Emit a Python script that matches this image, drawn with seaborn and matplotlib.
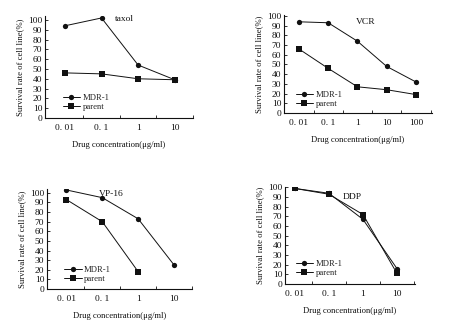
import matplotlib
matplotlib.use("Agg")
import matplotlib.pyplot as plt
import seaborn as sns
import pandas as pd

sns.set_theme(style="white")
plt.rcParams["font.family"] = ["Liberation Serif", "DejaVu Serif"]

# ---- data -------------------------------------------------------------
series_names = ["MDR-1", "parent"]

taxol_conc = ["0. 01", "0. 1", "1", "10"]
taxol_mdr = [94, 102, 54, 39]
taxol_parent = [46, 45, 40, 39]

vcr_conc = ["0. 01", "0. 1", "1", "10", "100"]
vcr_mdr = [94, 93, 74, 48, 32]
vcr_parent = [66, 46, 27, 24, 19]

vp16_conc = ["0. 01", "0. 1", "1", "10"]
vp16_mdr = [103, 95, 73, 25]
vp16_parent = [93, 70, 18]

ddp_conc = ["0. 01", "0. 1", "1", "10"]
ddp_mdr = [99, 94, 67, 16]
ddp_parent = [99, 93, 72, 11]

W, H = 451, 329
fig = plt.figure(figsize=(W / 100, H / 100), dpi=100)
INK = "#111111"


def panel(box, drug, conc, mdr, parent, xlim, ylim, title_xy, legend_xy):
    l, t, r, b = box
    ax = fig.add_axes([l / W, 1 - b / H, (r - l) / W, (b - t) / H])
    rows = []
    for i, v in enumerate(mdr):
        rows.append({"pos": i, "rate": v, "line": "MDR-1"})
    for i, v in enumerate(parent):
        rows.append({"pos": i, "rate": v, "line": "parent"})
    df = pd.DataFrame(rows)
    sns.lineplot(data=df, x="pos", y="rate", hue="line", style="line",
                 hue_order=series_names, style_order=series_names,
                 palette={"MDR-1": INK, "parent": INK},
                 markers={"MDR-1": "o", "parent": "s"}, dashes=False,
                 linewidth=0.7, markersize=3.8, markeredgewidth=0,
                 ax=ax)
    ax.set_xlim(*xlim)
    ax.set_ylim(*ylim)
    ax.set_xticks(range(len(conc)))
    ax.set_xticklabels(conc)
    ax.set_xticks([i + 0.5 for i in range(len(conc))], minor=True)
    ax.set_yticks(range(0, 101, 10))
    ax.tick_params(axis="x", which="major", length=0, pad=4, labelsize=6.8,
                   colors=INK)
    ax.tick_params(axis="x", which="minor", direction="in", length=2,
                   width=0.6, bottom=True, color=INK)
    ax.tick_params(axis="y", which="major", direction="in", length=2,
                   width=0.6, pad=2, labelsize=6.8, left=True, colors=INK)
    for s in ("top", "right"):
        ax.spines[s].set_visible(False)
    for s in ("left", "bottom"):
        ax.spines[s].set_color(INK)
        ax.spines[s].set_linewidth(0.8)
    ax.set_xlabel("Drug concentration(μg/ml)", fontsize=6.2, labelpad=7,
                  color=INK)
    ax.set_ylabel("Survival rate of cell line(%)", fontsize=6.2, labelpad=3,
                  color=INK)
    ax.text(title_xy[0], title_xy[1], drug, fontsize=6.8, color=INK,
            ha="center", va="center", transform=ax.transAxes)
    ax.legend(loc="upper left", bbox_to_anchor=legend_xy, frameon=False,
              fontsize=6.2, handlelength=2.0, handletextpad=0.3,
              labelspacing=0.1, borderpad=0, title=None)
    ax.set_facecolor("white")
    return ax


panel((45, 16, 193, 118), "taxol", taxol_conc, taxol_mdr, taxol_parent,
      (-0.545, 3.49), (0, 104), (0.54, 0.97), (0.09, 0.28))
panel((284, 15, 432, 113), "VCR", vcr_conc, vcr_mdr, vcr_parent,
      (-0.51, 4.55), (0, 101), (0.55, 0.93), (0.05, 0.27))
panel((47, 189, 192, 289), "VP-16", vp16_conc, vp16_mdr, vp16_parent,
      (-0.54, 3.38), (0, 104), (0.44, 0.95), (0.09, 0.27))
panel((285, 187, 415, 284), "DDP", ddp_conc, ddp_mdr, ddp_parent,
      (-0.29, 3.53), (0, 100.5), (0.52, 0.9), (0.05, 0.29))

fig.savefig("out.png", dpi=100, facecolor="white")
